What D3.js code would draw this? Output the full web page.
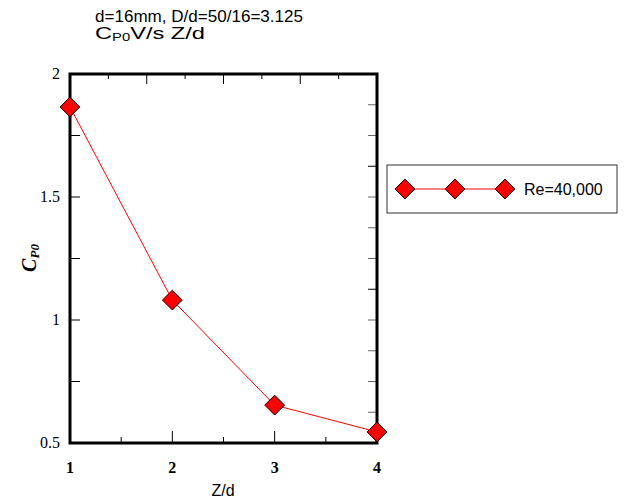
<!DOCTYPE html>
<html>
  <head>
    <title>Cp0 vs Z/d</title>
    <style>
      body { margin: 0; background: #fff; }
      .serif { font-family: "Liberation Serif", "Times New Roman", serif; }
      .sans { font-family: "Liberation Sans", Arial, sans-serif; }
    </style>
  </head>
  <body>
    <div id="chart"></div>
    <script src="https://d3js.org/d3.v7.min.js"></script>
<script>
  // data
  var zd = [1, 2, 3, 4];
  var cp0 = [1.866, 1.081, 0.654, 0.545];
  var seriesName = "Re=40,000";
  var xTicks = [1, 2, 3, 4];
  var yTicks = [0.5, 1, 1.5, 2];

  var width = 625, height = 500;
  var plot = {left: 70, right: 377, top: 74, bottom: 443};

  var svg = d3.select("#chart").append("svg")
    .attr("width", width)
    .attr("height", height);

  var x = d3.scaleLinear().domain([1, 4]).range([plot.left, plot.right]);
  var y = d3.scaleLinear().domain([0.5, 2]).range([plot.bottom, plot.top]);

  // title
  svg.append("text").attr("class", "sans").attr("font-size", 16)
    .attr("x", 95).attr("y", 22)
    .attr("textLength", 208).attr("lengthAdjust", "spacingAndGlyphs")
    .text("d=16mm, D/d=50/16=3.125");
  var t2 = svg.append("text").attr("class", "sans").attr("font-size", 16)
    .attr("x", 95).attr("y", 39)
    .attr("textLength", 110).attr("lengthAdjust", "spacingAndGlyphs");
  t2.append("tspan").text("C");
  t2.append("tspan").attr("font-size", 10).attr("dy", 2).text("P0");
  t2.append("tspan").attr("dy", -2).text("V/s Z/d");

  var ticksG = svg.append("g").attr("stroke", "#000").attr("stroke-width", 1);

  // left ticks (inward)
  ticksG.selectAll(".lt").data([0.75, 1, 1.25, 1.5, 1.75]).enter().append("line")
    .attr("x1", plot.left).attr("x2", plot.left + 10)
    .attr("y1", function(d){ return y(d); }).attr("y2", function(d){ return y(d); });

  // right ticks every 0.125
  var rt = d3.range(1, 12).map(function(i){ return 0.5 + i * 0.125; });
  ticksG.selectAll(".rt").data(rt).enter().append("line")
    .attr("stroke", function(d, i){ return (i == 4 || i == 8) ? "#000" : "#666"; })
    .attr("x1", plot.right - 9).attr("x2", plot.right)
    .attr("y1", function(d){ return y(d); }).attr("y2", function(d){ return y(d); });

  // bottom ticks (inward)
  ticksG.selectAll(".bt").data([1.5, 2, 2.5, 3, 3.5]).enter().append("line")
    .attr("x1", function(d){ return x(d); }).attr("x2", function(d){ return x(d); })
    .attr("y1", plot.bottom)
    .attr("y2", function(d){ return plot.bottom - (d % 1 == 0 ? 12 : 6); });

  // top ticks, 8 divisions
  var tt = d3.range(1, 8).map(function(i){ return 1 + i * 3 / 8; });
  ticksG.selectAll(".tt").data(tt).enter().append("line")
    .attr("x1", function(d){ return x(d); }).attr("x2", function(d){ return x(d); })
    .attr("y1", plot.top)
    .attr("y2", function(d, i){ return plot.top + (i % 2 == 1 ? 10 : 5); });

  // frame
  svg.append("rect")
    .attr("x", plot.left).attr("y", plot.top)
    .attr("width", plot.right - plot.left).attr("height", plot.bottom - plot.top)
    .attr("fill", "none").attr("stroke", "#000").attr("stroke-width", 3);

  // y tick labels
  svg.selectAll(".yl").data(yTicks).enter().append("text")
    .attr("class", "serif").attr("font-size", 16)
    .attr("text-anchor", "end")
    .attr("x", plot.left - 10)
    .attr("y", function(d){ return y(d) + 5; })
    .text(function(d){ return d; });

  // x tick labels
  svg.selectAll(".xl").data(xTicks).enter().append("text")
    .attr("class", "serif").attr("font-size", 16).attr("font-weight", "bold")
    .attr("text-anchor", "middle")
    .attr("x", function(d){ return x(d); })
    .attr("y", 473)
    .text(function(d){ return d; });

  // axis titles
  svg.append("text").attr("class", "sans").attr("font-size", 16)
    .attr("text-anchor", "middle").attr("x", 223).attr("y", 496).text("Z/d");

  var yt = svg.append("text").attr("class", "serif").attr("font-size", 20)
    .attr("font-weight", "bold").attr("font-style", "italic")
    .attr("text-anchor", "middle")
    .attr("transform", "translate(36,258) rotate(-90)");
  yt.append("tspan").text("C");
  yt.append("tspan").attr("font-size", 13).attr("dy", 3).text("P0");

  // series
  var pts = zd.map(function(d, i){ return {x: d, y: cp0[i]}; });
  var diamond = d3.symbol().type(d3.symbolDiamond2).size(250);

  svg.append("path").datum(pts)
    .attr("fill", "none").attr("stroke", "#f00").attr("stroke-width", 1)
    .attr("d", d3.line().x(function(d){ return x(d.x); }).y(function(d){ return y(d.y); }));

  svg.selectAll(".pt").data(pts).enter().append("path")
    .attr("d", diamond)
    .attr("transform", function(d){ return "translate(" + x(d.x) + "," + y(d.y) + ")"; })
    .attr("fill", "#f00").attr("stroke", "#000").attr("stroke-width", 1);

  // legend
  var lg = svg.append("g");
  lg.append("rect").attr("x", 387).attr("y", 165).attr("width", 230).attr("height", 48)
    .attr("fill", "#fff").attr("stroke", "#333").attr("stroke-width", 1);
  lg.append("line").attr("x1", 405).attr("x2", 505).attr("y1", 189).attr("y2", 189)
    .attr("stroke", "#f00");
  lg.selectAll(".lm").data([405, 455, 505]).enter().append("path")
    .attr("d", diamond)
    .attr("transform", function(d){ return "translate(" + d + ",189)"; })
    .attr("fill", "#f00").attr("stroke", "#000");
  lg.append("text").attr("class", "sans").attr("font-size", 16)
    .attr("x", 524).attr("y", 195).text(seriesName);
</script>
  </body>
</html>
